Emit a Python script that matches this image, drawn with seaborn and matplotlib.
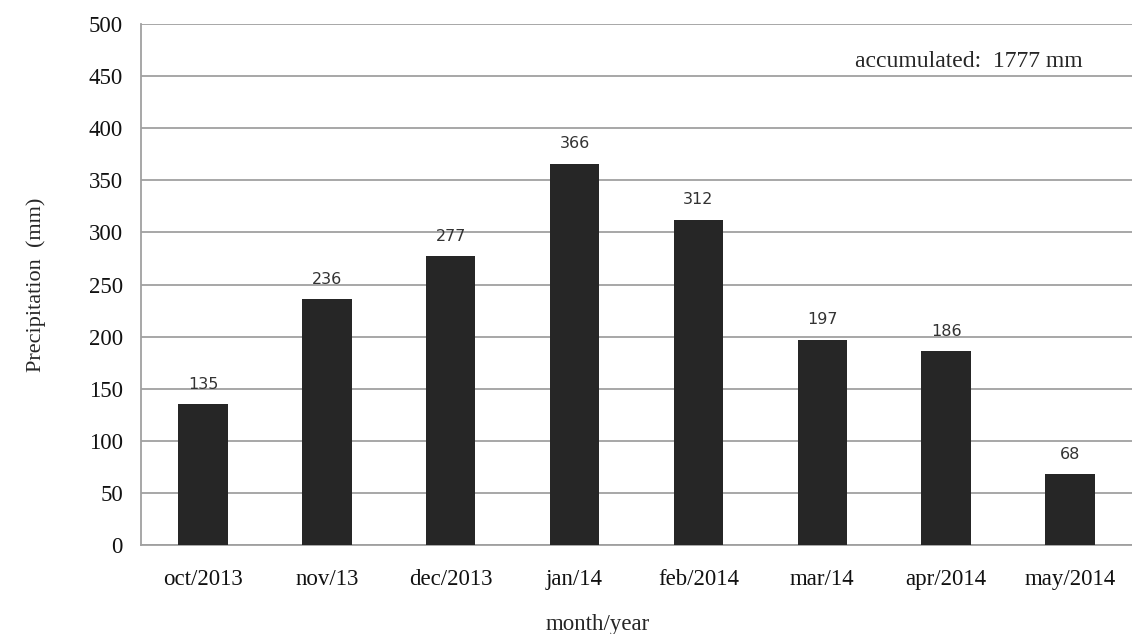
import pandas as pd
import matplotlib
matplotlib.use("Agg")
import matplotlib.pyplot as plt
import seaborn as sns

months = ["oct/2013", "nov/13", "dec/2013", "jan/14", "feb/2014", "mar/14", "apr/2014", "may/2014"]
precip = [135, 236, 277, 366, 312, 197, 186, 68]
y_ticks = [0, 50, 100, 150, 200, 250, 300, 350, 400, 450, 500]
total_note = "accumulated:  1777 mm"

df = pd.DataFrame({"month": months, "precip": precip})

sns.set_style("white")
plt.rcParams["font.family"] = ["Liberation Serif", "DejaVu Serif"]

fig = plt.figure(figsize=(11.32, 6.34), dpi=100)
ax = fig.add_axes([0.1246, 0.1404, 0.8754, 0.8216])

sns.barplot(data=df, x="month", y="precip", color="#262626", width=0.4,
            saturation=1, edgecolor="#262626", linewidth=0, ax=ax, zorder=3)

# value labels above bars
for i, v in enumerate(precip):
    ax.text(i, v + 12, str(v), ha="center", va="bottom", fontsize=11.5,
            family="DejaVu Sans", color="#333333")

ax.set_ylim(0, 500)
ax.set_yticks(y_ticks)
ax.yaxis.grid(True, color="#a0a0a0", linewidth=1.3, zorder=0)
ax.set_axisbelow(True)
for s in ["top", "right"]:
    ax.spines[s].set_visible(False)
for s in ["left", "bottom"]:
    ax.spines[s].set_color("#a0a0a0")
    ax.spines[s].set_linewidth(1.3)
ax.tick_params(axis="both", length=0, labelsize=16.5, colors="#111111")
ax.tick_params(axis="x", pad=17)
ax.tick_params(axis="y", pad=13)

ax.set_xlabel("month/year", fontsize=16.5)
ax.xaxis.set_label_coords(0.461, -0.132)
ax.set_ylabel("Precipitation  (mm)", fontsize=16, labelpad=31)

ax.text(7.1, 464, total_note, ha="right", va="center", fontsize=17)

fig.savefig("out.png", dpi=100)
